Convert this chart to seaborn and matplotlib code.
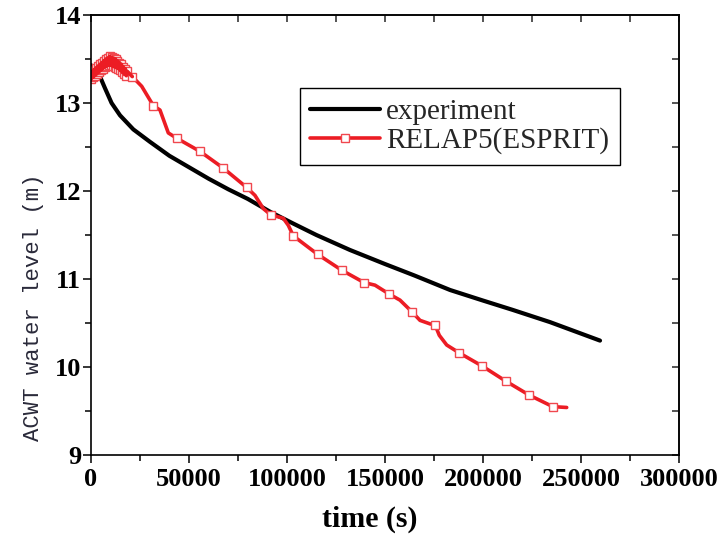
import matplotlib
matplotlib.use("Agg")
import matplotlib.pyplot as plt
import seaborn as sns
import pandas as pd
from matplotlib.ticker import MultipleLocator

# ---- data ----
exp_time = [0, 4600, 7100, 10500, 14800, 21600, 30000, 40000, 50000, 60000,
            70000, 80000, 91700, 103200, 115000, 132100, 150000, 165000,
            183200, 200000, 215000, 234200, 259700]
exp_level = [13.43, 13.30, 13.17, 13.00, 12.86, 12.70, 12.56, 12.40, 12.27, 12.14,
             12.02, 11.91, 11.76, 11.63, 11.50, 11.33, 11.17, 11.04,
             10.875, 10.755, 10.65, 10.51, 10.30]

# early oscillating part (dense, every point marked)
relap_early_time = [0, 500, 1000, 1500, 2000, 2500, 3000, 3500, 4000, 4500,
                    5000, 5500, 6000, 6500, 7000, 7500, 8000, 8500, 9000, 9500,
                    10000, 10500, 11000, 11500, 12000, 12500, 13000, 13500, 14000,
                    14500, 15000, 15500, 16000, 16500, 17000, 17500, 18000, 18500]
relap_early_level = [13.27, 13.36, 13.29, 13.38, 13.31, 13.40, 13.33, 13.42, 13.35, 13.44,
                     13.37, 13.46, 13.39, 13.48, 13.41, 13.50, 13.42, 13.51, 13.43, 13.53,
                     13.43, 13.52, 13.42, 13.51, 13.41, 13.50, 13.40, 13.48, 13.39,
                     13.46, 13.37, 13.44, 13.35, 13.41, 13.33, 13.39, 13.31, 13.36]
# later part
relap_late_time = [21070, 25870, 31790, 35200, 39440, 43720, 55610, 67500, 79440,
                   83670, 87910, 91680, 98110, 100660, 103210, 115660, 127910,
                   139290, 144900, 152040, 157650, 163620, 167860, 172960, 175510,
                   177700, 181480, 187910, 199640, 211580, 223620, 235560, 242700]
relap_late_level = [13.30, 13.19, 12.97, 12.92, 12.66, 12.60, 12.45, 12.26, 12.04,
                    11.95, 11.80, 11.73, 11.69, 11.61, 11.49, 11.28, 11.10,
                    10.96, 10.93, 10.83, 10.76, 10.63, 10.53, 10.49, 10.48,
                    10.36, 10.25, 10.16, 10.01, 9.84, 9.68, 9.55, 9.54]
relap_late_marked = [1, 0, 1, 0, 0, 1, 1, 1, 1,
                     0, 0, 1, 0, 0, 1, 1, 1,
                     1, 0, 1, 0, 1, 0, 0, 1,
                     0, 0, 1, 1, 1, 1, 1, 0]

x_ticks = [0, 50000, 100000, 150000, 200000, 250000, 300000]
y_ticks = [9, 10, 11, 12, 13, 14]
x_label = "time (s)"
y_label = "ACWT water level (m)"
series_names = ["experiment", "RELAP5(ESPRIT)"]

RED = "#ec1c24"

# ---- figure ----
sns.set_theme(style="white")
plt.rcParams["font.family"] = ["Liberation Serif", "DejaVu Serif"]

fig = plt.figure(figsize=(7.17, 5.41), dpi=100)
ax = fig.add_axes([91 / 717, 1 - 455 / 541, 588 / 717, 440 / 541])

df_exp = pd.DataFrame({"t": exp_time, "h": exp_level})
relap_time = relap_early_time + relap_late_time
relap_level = relap_early_level + relap_late_level
relap_marked = [1] * len(relap_early_time) + relap_late_marked
df_rel = pd.DataFrame({"t": relap_time, "h": relap_level})
df_early = pd.DataFrame({"t": relap_early_time + relap_late_time[:1],
                         "h": relap_early_level + relap_late_level[:1]})
mark_idx = [i for i, m in enumerate(relap_marked) if m]

sns.lineplot(data=df_exp, x="t", y="h", ax=ax, color="black", linewidth=3.0,
             label=series_names[0], sort=False, estimator=None)
sns.lineplot(data=df_rel, x="t", y="h", ax=ax, color=RED, linewidth=2.6,
             marker="s", markersize=5.5, markerfacecolor="white",
             markeredgecolor="#f0474e", markeredgewidth=1.0,
             markevery=mark_idx, label=series_names[1], sort=False, estimator=None)
# dense oscillating start: line segments drawn over the packed symbols
sns.lineplot(data=df_early, x="t", y="h", ax=ax, color=RED, linewidth=2.6,
             sort=False, estimator=None, legend=False)

ax.set_xlim(0, 300000)
ax.set_ylim(9, 14)
ax.set_xticks(x_ticks)
ax.set_yticks(y_ticks)
ax.set_xticklabels([str(v) for v in x_ticks])
ax.set_yticklabels([str(v) for v in y_ticks])
ax.xaxis.set_minor_locator(MultipleLocator(25000))
ax.yaxis.set_minor_locator(MultipleLocator(0.5))

for sp in ax.spines.values():
    sp.set_visible(True)
    sp.set_color("black")
    sp.set_linewidth(1.2)

ax.tick_params(which="both", direction="out", bottom=True, left=True,
               top=False, right=False, color="black", width=1.1)
ax.tick_params(which="major", length=6)
ax.tick_params(which="minor", length=4)
ax.tick_params(axis="x", which="major", pad=3)
ax.tick_params(axis="y", which="major", pad=1)
for lab in ax.get_xticklabels() + ax.get_yticklabels():
    lab.set_fontweight("bold")
    lab.set_fontsize(19)
    lab.set_color("black")

# inward ticks on top and right
sx = ax.secondary_xaxis("top")
sx.set_xticks(x_ticks)
sx.xaxis.set_minor_locator(MultipleLocator(25000))
sx.tick_params(which="both", direction="in", labeltop=False, width=1.1, length=5)
sx.spines["top"].set_linewidth(1.2)
sy = ax.secondary_yaxis("right")
sy.set_yticks(y_ticks)
sy.yaxis.set_minor_locator(MultipleLocator(0.5))
sy.tick_params(which="both", direction="in", labelright=False, width=1.1, length=5)
sy.spines["right"].set_linewidth(1.2)

ax.set_xlabel(x_label, fontsize=21.5, fontweight="bold", color="black")
ax.xaxis.set_label_coords(0.474, -0.116)
ax.set_ylabel(y_label, fontsize=16, color="#2a2a3a",
              family=["Liberation Mono", "DejaVu Sans Mono"])
ax.yaxis.set_label_coords(-0.08, 0.336)

leg = ax.legend(loc="upper left", bbox_to_anchor=(0.355, 0.834), fontsize=21,
                frameon=True, fancybox=False, edgecolor="black", framealpha=1,
                handlelength=2.4, handletextpad=0.2, labelspacing=0.08,
                borderpad=0.36, borderaxespad=0)
leg.get_frame().set_linewidth(1.0)

fig.savefig("out.png", dpi=100)
